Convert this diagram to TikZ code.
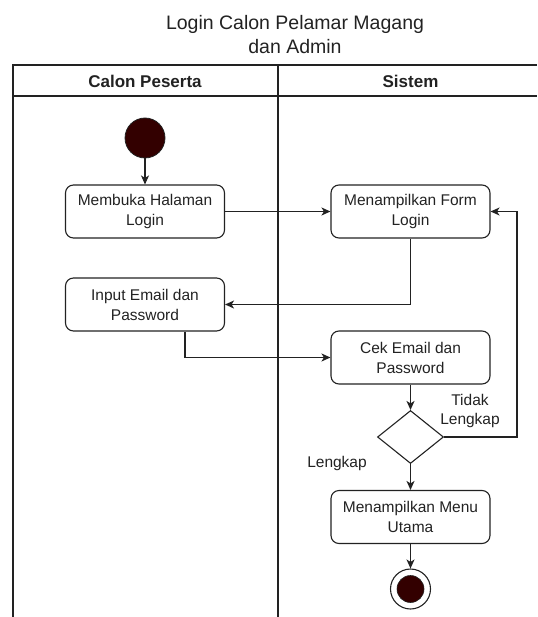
\documentclass[tikz,border=0pt]{standalone}
\usepackage{fontspec}
\setmainfont{Liberation Sans}
\usetikzlibrary{arrows.meta,shapes.geometric}
\definecolor{startfill}{HTML}{330000}
\definecolor{ink}{HTML}{222222}
\tikzset{
  lane/.style={draw=ink, line width=1.3pt},
  action/.style={draw=ink, line width=1.1pt, rounded corners=8pt, minimum width=159pt,
    minimum height=53pt, align=center, text=ink, inner sep=2pt,
    font=\fontsize{15.5}{20}\selectfont},
  decision/.style={draw=ink, line width=1.1pt, diamond, aspect=1.25, minimum width=66pt,
    minimum height=53pt, inner sep=0pt},
  flow/.style={draw=ink, line width=1.1pt, -{Stealth[length=9pt,width=8pt,inset=2.5pt]}},
  lbl/.style={text=ink, align=center, font=\fontsize{15.5}{19}\selectfont},
  hdr/.style={text=ink, font=\fontsize{17}{20}\selectfont\bfseries},
}
\begin{document}
\begin{tikzpicture}[x=1pt,y=1pt]
\useasboundingbox (0,0) rectangle (537,-617);

% title
\node[text=ink, align=center, font=\fontsize{19.5}{24}\selectfont] (title) at (295,-35)
  {Login Calon Pelamar Magang\\dan Admin};

% swimlanes
\draw[lane] (537,-65) -- (13,-65) -- (13,-617);
\draw[lane] (13,-96) -- (537,-96);
\draw[lane] (278,-65) -- (278,-617);
\node[hdr] (h1) at (145,-81) {Calon Peserta};
\node[hdr] (h2) at (410.5,-81) {Sistem};

% start and actions
\node[circle, draw=ink, fill=startfill, minimum size=40pt, inner sep=0pt, line width=0.8pt] (start) at (145,-138) {};
\node[action] (buka) at (145,-211.5) {Membuka Halaman\\Login};
\node[action] (input) at (145,-304.5) {Input Email dan\\Password};
\node[action] (form) at (410.5,-211.5) {Menampilkan Form\\Login};
\node[action] (cek) at (410.5,-357.5) {Cek Email dan\\Password};
\node[decision] (dec) at (410.5,-437) {};
\node[action] (menu) at (410.5,-517) {Menampilkan Menu\\Utama};
\node[circle, draw=ink, line width=1.1pt, minimum size=40pt, inner sep=0pt] (endo) at (410.5,-589) {};
\node[circle, fill=startfill, draw=ink, line width=0.6pt, minimum size=27pt, inner sep=0pt] (endi) at (endo.center) {};

% guard labels
\node[lbl] (tidak) at (470,-410.5) {Tidak\\Lengkap};
\node[lbl] (lengkap) at (337,-463) {Lengkap};

% connectors
\coordinate (loopR) at (517,-437);
\draw[flow] (start) -- (buka);
\draw[flow] (buka) -- (form);
\draw[flow] (form.south) |- (input.east);
\draw[flow] ([xshift=40pt]input.south) |- (cek.west);
\draw[flow] (cek) -- (dec);
\draw[flow] (dec.east) -- (loopR) |- (form.east);
\draw[flow] (dec) -- (menu);
\draw[flow] (menu) -- (endo);
\end{tikzpicture}
\end{document}
